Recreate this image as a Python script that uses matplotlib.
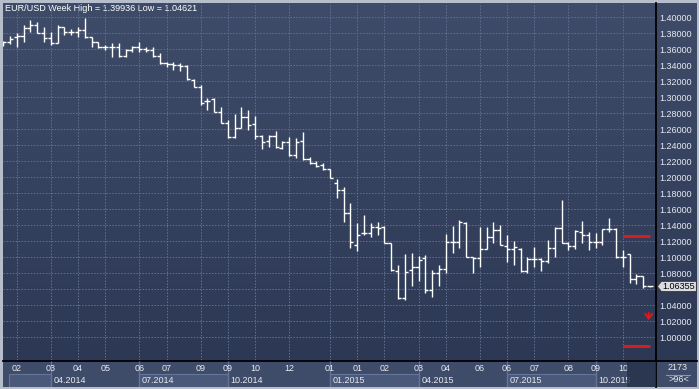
import numpy as np
import matplotlib
matplotlib.use("Agg")
import matplotlib.pyplot as plt
from matplotlib.patches import Rectangle, Polygon
from matplotlib.transforms import IdentityTransform

plt.rcParams['font.family'] = ['Liberation Sans', 'DejaVu Sans']

# ---------------- data (weekly EUR/USD OHLC) ----------------
opens = [1.3660, 1.3690, 1.3750, 1.3766, 1.3862, 1.3904, 1.3800, 1.3737, 1.3683, 1.3883,
         1.3812, 1.3812, 1.3841, 1.3750, 1.3695, 1.3625, 1.3625, 1.3633, 1.3516, 1.3591,
         1.3633, 1.3600, 1.3591, 1.3516, 1.3433, 1.3416, 1.3410, 1.3391, 1.3216, 1.3125,
         1.2958, 1.2975, 1.2820, 1.2675, 1.2504, 1.2620, 1.2754, 1.2662, 1.2512, 1.2454,
         1.2520, 1.2362, 1.2437, 1.2279, 1.2454, 1.2225, 1.2175, 1.2154, 1.2100, 1.1925,
         1.1841, 1.1550, 1.1154, 1.1300, 1.1308, 1.1375, 1.1383, 1.1183, 1.0833, 1.0487,
         1.0841, 1.0875, 1.0987, 1.0591, 1.0808, 1.0850, 1.1191, 1.1191, 1.1433, 1.1000,
         1.0987, 1.1100, 1.1250, 1.1338, 1.1146, 1.1100, 1.1100, 1.0833, 1.0975, 1.0975,
         1.0958, 1.1112, 1.1371, 1.1183, 1.1138, 1.1321, 1.1279, 1.1191, 1.1191, 1.1350,
         1.1350, 1.1008, 1.1041, 1.0733, 1.0766, 1.06355]
highs = [1.3705, 1.3766, 1.3800, 1.3904, 1.3966, 1.3945, 1.3883, 1.3820, 1.3904, 1.3883,
         1.3850, 1.3883, 1.39936, 1.3750, 1.3695, 1.3654, 1.3675, 1.3675, 1.3600, 1.3641,
         1.3687, 1.3625, 1.3633, 1.3558, 1.3445, 1.3445, 1.3425, 1.3404, 1.3225, 1.3154,
         1.2987, 1.2996, 1.2883, 1.2716, 1.2787, 1.2883, 1.2841, 1.2770, 1.2529, 1.2529,
         1.2579, 1.2454, 1.2508, 1.2487, 1.2562, 1.2258, 1.2204, 1.2175, 1.2100, 1.1979,
         1.1875, 1.1683, 1.1425, 1.1529, 1.1433, 1.1446, 1.1391, 1.1183, 1.0904, 1.1041,
         1.1050, 1.1016, 1.1029, 1.0842, 1.0904, 1.1291, 1.1391, 1.1466, 1.1446, 1.1000,
         1.1380, 1.1375, 1.1440, 1.1404, 1.1279, 1.1208, 1.1112, 1.1008, 1.1133, 1.0987,
         1.1216, 1.1383, 1.1716, 1.1192, 1.1342, 1.1454, 1.1321, 1.1308, 1.1358, 1.1487,
         1.1362, 1.1092, 1.1041, 1.0791, 1.0766, 1.0640]
lows = [1.3640, 1.3666, 1.3633, 1.3695, 1.3820, 1.3800, 1.3695, 1.3654, 1.3675, 1.3779,
        1.3779, 1.3758, 1.3737, 1.3633, 1.3612, 1.3591, 1.3508, 1.3500, 1.3500, 1.3570,
        1.3570, 1.3570, 1.3500, 1.3416, 1.3383, 1.3341, 1.3333, 1.3216, 1.3125, 1.2904,
        1.2841, 1.2812, 1.2675, 1.2495, 1.2495, 1.2620, 1.2591, 1.2479, 1.2350, 1.2383,
        1.2362, 1.2350, 1.2270, 1.2237, 1.2216, 1.2166, 1.2133, 1.2091, 1.1995, 1.1745,
        1.1445, 1.1112, 1.1083, 1.1279, 1.1258, 1.1279, 1.1175, 1.0833, 1.0480, 1.04621,
        1.0641, 1.0708, 1.0550, 1.0508, 1.0641, 1.0808, 1.1058, 1.1112, 1.1000, 1.0808,
        1.0883, 1.1100, 1.1175, 1.1154, 1.0946, 1.0904, 1.0821, 1.0800, 1.0875, 1.0833,
        1.0933, 1.1008, 1.1183, 1.1092, 1.1100, 1.1175, 1.1092, 1.1121, 1.1154, 1.1321,
        1.0987, 1.0883, 1.0675, 1.0666, 1.0612, 1.0630]
closes = [1.3687, 1.3725, 1.3766, 1.3862, 1.3904, 1.3800, 1.3737, 1.3683, 1.3883, 1.3812,
          1.3812, 1.3841, 1.3750, 1.3695, 1.3625, 1.3625, 1.3633, 1.3516, 1.3591, 1.3633,
          1.3600, 1.3591, 1.3516, 1.3433, 1.3416, 1.3410, 1.3391, 1.3225, 1.3133, 1.2933,
          1.2958, 1.2820, 1.2683, 1.2504, 1.2620, 1.2754, 1.2654, 1.2512, 1.2437, 1.2520,
          1.2375, 1.2437, 1.2279, 1.2445, 1.2225, 1.2175, 1.2146, 1.2100, 1.1995, 1.1837,
          1.1550, 1.1195, 1.1279, 1.1300, 1.1375, 1.1362, 1.1183, 1.0841, 1.0487, 1.0816,
          1.0875, 1.0966, 1.0591, 1.0800, 1.0850, 1.1191, 1.1191, 1.1441, 1.1008, 1.0987,
          1.1100, 1.1250, 1.1338, 1.1154, 1.1100, 1.1133, 1.0833, 1.0975, 1.0975, 1.0958,
          1.1112, 1.1371, 1.1183, 1.1138, 1.1333, 1.1279, 1.1191, 1.1191, 1.1350, 1.1350,
          1.1008, 1.1000, 1.0733, 1.0766, 1.06355, 1.06355]

month_bars = [2, 7, 11, 15, 20, 24, 29, 33, 37, 42, 48, 52, 56, 61, 65, 70, 74, 78, 83, 87, 91]
month_labels = ['02', '03', '04', '05', '06', '07', '09', '09', '10', '12', '01',
                '01', '02', '03', '04', '06', '06', '07', '08', '09', '10']
quarter_bars = [7, 20, 33, 48, 61, 74, 87]
quarter_labels = ['04.2014', '07.2014', '10.2014', '01.2015', '04.2015', '07.2015', '10.2015']
boxed_quarters = [(0.87, 7), (20, 33), (48, 61), (74, 87)]

price_ticks = [1.00, 1.02, 1.04, 1.06, 1.08, 1.10, 1.12, 1.14, 1.16, 1.18, 1.20,
               1.22, 1.24, 1.26, 1.28, 1.30, 1.32, 1.34, 1.36, 1.38, 1.40]
red_levels = [1.1270, 0.9895]
red_from, red_to = 91, 95
arrow_from, arrow_to = 1.0304, 1.0213
bars_count_text = '2173'
zoom_text = '>96<'

# ---------------- figure ----------------
W, H = 699, 389
fig = plt.figure(figsize=(W / 100, H / 100), dpi=100, facecolor='#b7becb')

bg = fig.add_axes([0, 0, 1, 1])
bg.set_xlim(0, W)
bg.set_ylim(H, 0)
bg.axis('off')

top_c = np.array([63, 76, 105]) / 255
bot_c = np.array([44, 56, 84]) / 255
t = np.linspace(0, 1, 256)[:, None, None]
grad = top_c[None, None, :] * (1 - t) + bot_c[None, None, :] * t
bg.imshow(grad, extent=(3, 697, 360, 3), aspect='auto', interpolation='bilinear', zorder=0)

# date strip
bg.add_patch(Rectangle((3, 360), 694, 27, facecolor='#3e4b69', edgecolor='none', zorder=1))
bg.plot([656, 656], [3, 387], color='black', lw=1.3, zorder=5)
bg.plot([3, 697], [360.5, 360.5], color='black', lw=1.3, zorder=5)

# bottom-right info box
bg.text(677.5, 367.3, bars_count_text, color='#e8eaf0', fontsize=6.5, ha='center', va='center', zorder=6)
bg.plot([666, 690], [374.5, 374.5], color='#8d97ab', lw=0.8, zorder=6)
bg.text(679, 379.6, zoom_text, color='#e8eaf0', fontsize=6.5, ha='center', va='center', zorder=6)

# main chart axes
x0_px, x1_px, y0_px, y1_px = 3, 656, 3, 360
ax = fig.add_axes([x0_px / W, (H - y1_px) / H, (x1_px - x0_px) / W, (y1_px - y0_px) / H])
ax.set_facecolor('none')
ax.set_xlim(-0.015, 95.87)
ax.set_ylim(0.971625, 1.417875)
for s in ax.spines.values():
    s.set_visible(False)

# the label at the last price hides the tick label that lies under it
hidden = [abs(p - closes[-1]) < 0.006 for p in price_ticks]
ax.yaxis.tick_right()
ax.set_yticks(price_ticks)
ax.set_yticklabels(['' if hd else f'{p:.5f}' for p, hd in zip(price_ticks, hidden)])
ax.tick_params(axis='y', length=0, pad=2.4, labelsize=6.5, labelcolor='#e8eaf0')
ax.set_xticks(month_bars)
ax.tick_params(axis='x', length=0, labelbottom=False)
ax.grid(True, color='#5e6e90', linestyle=(0, (1.45, 1.45)), lw=0.75)
ax.set_axisbelow(True)

idx = np.arange(len(opens))
o = np.array(opens); h = np.array(highs); l = np.array(lows); c = np.array(closes)
ax.vlines(idx, l, h, color='white', lw=1.0, zorder=3)
ax.hlines(o, idx - 0.45, idx, color='white', lw=1.0, zorder=3)
ax.hlines(c, idx, idx + 0.45, color='white', lw=1.0, zorder=3)

ax.hlines(red_levels, red_from, red_to, color='#d81b1b', lw=2.2, zorder=4)
ax.annotate('', xy=(red_to - 0.2, arrow_to), xytext=(red_to - 0.2, arrow_from),
            arrowprops=dict(arrowstyle='->,head_length=0.35,head_width=0.25', color='#e01818',
                            lw=1.4, shrinkA=0, shrinkB=0),
            zorder=4)

title = f'EUR/USD Week High = {max(highs):.5f} Low = {min(lows):.5f}'
bg.text(5, 8.8, title, color='white', fontsize=6.5, ha='left', va='center', zorder=6)

# date strip axes
ax2 = fig.add_axes([x0_px / W, (H - 387) / H, (x1_px - x0_px) / W, 27 / H])
ax2.set_facecolor('none')
ax2.set_xlim(ax.get_xlim())
ax2.set_ylim(27, 0)
ax2.axis('off')
for a, b in boxed_quarters:
    ax2.add_patch(Rectangle((a, 14.3), b - a, 12.4, facecolor='#4a5879', edgecolor='#66759a', lw=0.8, zorder=1))
ax2.vlines(quarter_bars, 0.8, 27, color='#64739a', lw=1.0, zorder=2)
for b, lab in zip(month_bars, month_labels):
    ax2.text(b, 8.3, lab, color='#e8eaf0', fontsize=6.5, ha='center', va='center', zorder=3)
for b, lab in zip(quarter_bars, quarter_labels):
    ax2.text(b + 0.4, 20.2, lab, color='#e8eaf0', fontsize=6.5, ha='left', va='center', zorder=3)
ax2.add_patch(Rectangle((91.57, 1.6), 95.87 - 91.57, 25.2, facecolor='#27324c', alpha=0.8,
                        edgecolor='none', zorder=4))

# last price label on the price scale
fig.canvas.draw()
yc = ax.transData.transform((0, closes[-1]))[1]
xl = 657.3
pts = [(xl, yc), (xl + 4, yc + 5.2), (696.5, yc + 5.2), (696.5, yc - 5.2), (xl + 4, yc - 5.2)]
fig.add_artist(Polygon(pts, closed=True, facecolor='#d9dce2', edgecolor='#3a3a3a', lw=0.8,
                       transform=IdentityTransform(), zorder=10))
fig.text(678.5 / W, yc / H, f'{closes[-1]:.5f}', color='black', fontsize=6.5,
         ha='center', va='center', zorder=11)

fig.savefig('out.png', dpi=100, facecolor=fig.get_facecolor())
